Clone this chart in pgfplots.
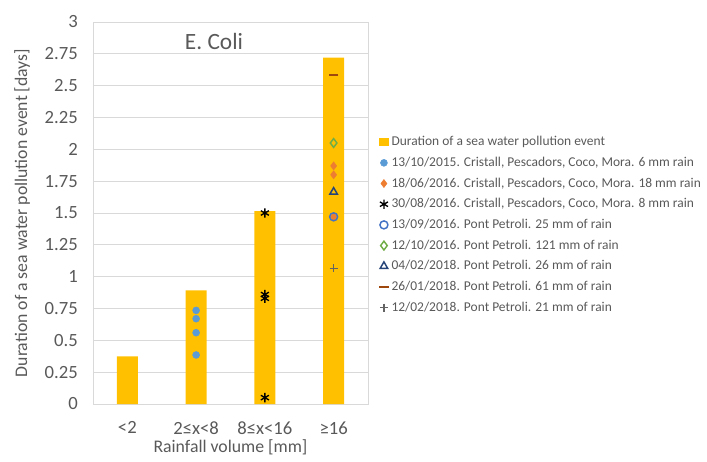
\documentclass[border=0pt]{standalone}
\usepackage{fontspec}
\setmainfont{Carlito}
\usepackage{pgfplots}
\pgfplotsset{compat=1.18}
\definecolor{txt}{HTML}{595959}
\definecolor{grd}{HTML}{D9D9D9}
\definecolor{barc}{HTML}{FFC000}
\definecolor{cblue}{HTML}{5B9BD5}
\definecolor{corange}{HTML}{ED7D31}
\definecolor{cblue2}{HTML}{4472C4}
\definecolor{cgreen}{HTML}{70AD47}
\definecolor{cdblue}{HTML}{264478}
\definecolor{cbrown}{HTML}{9E480E}
\definecolor{cgray}{HTML}{636363}
\begin{document}
\begin{tikzpicture}
\path[use as bounding box] (0pt,0pt) rectangle (530.25pt,345.75pt);
\begin{axis}[
  at={(69.75pt,42.75pt)}, anchor=south west,
  scale only axis, width=206.25pt, height=286.5pt,
  xmin=-0.5, xmax=3.5, ymin=0, ymax=3,
  ytick={0,0.25,0.5,0.75,1,1.25,1.5,1.75,2,2.25,2.5,2.75,3},
  yticklabels={0,0.25,0.5,0.75,1,1.25,1.5,1.75,2,2.25,2.5,2.75,3},
  xtick={0,1,2,3},
  xticklabels={<2,2≤x<8,8≤x<16,≥16},
  major tick length=0pt,
  ymajorgrids, grid style={grd, line width=0.75pt},
  axis line style={grd, line width=0.75pt},
  tick label style={txt, font=\fontsize{14}{16}\selectfont},
  yticklabel style={inner sep=0pt, xshift=-11.25pt},
  xticklabel style={inner sep=0pt, yshift=-13pt},
  xlabel={Rainfall volume [mm]},
  ylabel={Duration of a sea water pollution event [days]},
  label style={txt, font=\fontsize{13.3}{15}\selectfont},
  xlabel style={at={(axis description cs:0.5,-0.114)}, anchor=center},
  ylabel style={at={(axis description cs:-0.258,0.5)}, anchor=center, rotate=0},
  legend style={at={(axis description cs:1.04,0.708)}, anchor=north west,
    draw=none, fill=none, font=\fontsize{10.1}{12}\selectfont, text=txt,
    row sep=3pt, inner sep=0pt, nodes={inner xsep=2.2pt}},
  legend cell align=left,
  legend image code/.code={\draw[mark repeat=2,mark phase=2,#1] plot coordinates {(0pt,0pt) (3.5pt,0pt) (7pt,0pt)};},
  clip=false,
]
\addplot[ybar, bar width=15.75pt, fill=barc, draw=none,
  legend image code/.code={\fill[barc] (0pt,-3pt) rectangle (7pt,3pt);}]
  coordinates {(0,0.375) (1,0.893) (2,1.515) (3,2.72)};
\addlegendentry{Duration of a sea water pollution event}
\addplot[only marks, mark=*, mark size=2.6pt, cblue, mark options={draw=cblue, fill=cblue}]
  coordinates {(1,0.735) (1,0.67) (1,0.56) (1,0.385)};
\addlegendentry{13/10/2015. Cristall, Pescadors, Coco, Mora. 6 mm rain}
\addplot[only marks, mark=diamond*, mark size=3pt, corange, mark options={draw=corange, fill=corange}]
  coordinates {(3,1.87) (3,1.80) (3,1.47)};
\addlegendentry{18/06/2016. Cristall, Pescadors, Coco, Mora. 18 mm rain}
\addplot[only marks, mark=asterisk, mark size=3.5pt, black, mark options={line width=1pt}]
  coordinates {(2,1.50) (2,0.86) (2,0.83) (2,0.05)};
\addlegendentry{30/08/2016. Cristall, Pescadors, Coco, Mora. 8 mm rain}
\addplot[only marks, mark=o, mark size=3pt, cblue2, mark options={line width=1.1pt}]
  coordinates {(3,1.47)};
\addlegendentry{13/09/2016. Pont Petroli. 25 mm of rain}
\addplot[only marks, mark=diamond, mark size=3.3pt, cgreen, mark options={line width=1.1pt}]
  coordinates {(3,2.05)};
\addlegendentry{12/10/2016. Pont Petroli. 121 mm of rain}
\addplot[only marks, mark=triangle, mark size=3.3pt, cdblue, mark options={line width=1.1pt}]
  coordinates {(3,1.665)};
\addlegendentry{04/02/2018. Pont Petroli. 26 mm of rain}
\addplot[only marks, mark=-, mark size=3.5pt, cbrown, mark options={line width=1.8pt}]
  coordinates {(3,2.585)};
\addlegendentry{26/01/2018. Pont Petroli. 61 mm of rain}
\addplot[only marks, mark=+, mark size=3pt, cgray, mark options={line width=1pt}]
  coordinates {(3,1.065)};
\addlegendentry{12/02/2018. Pont Petroli. 21 mm of rain}
\node[txt, font=\fontsize{17.5}{20}\selectfont] at (axis description cs:0.44,0.95) {E. Coli};
\end{axis}
\end{tikzpicture}
\end{document}
